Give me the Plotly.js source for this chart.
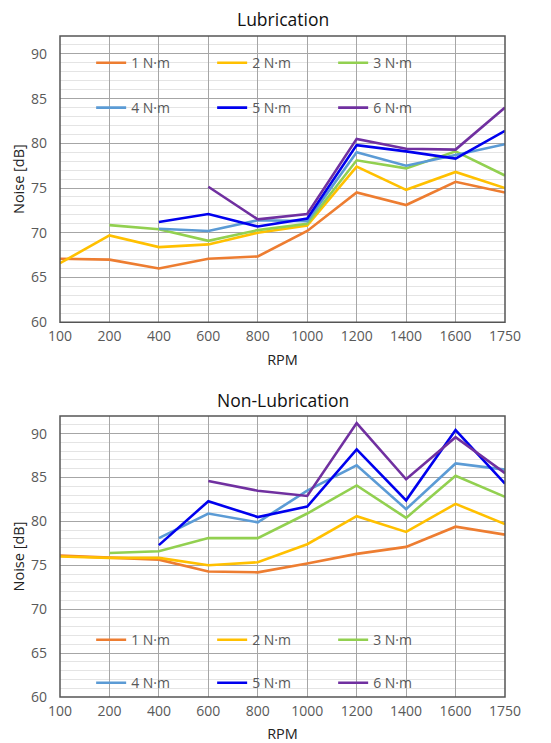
<!DOCTYPE html>
<html>
<head>
<meta charset="utf-8">
<script src="https://cdn.plot.ly/plotly-3.0.1.min.js"></script>
<style>html,body{margin:0;padding:0;background:#fff;}#chart{width:551px;height:743px;}</style>
</head>
<body>
<div id="chart"></div>
<script>
const rpm = ['100','200','400','600','800','1000','1200','1400','1600','1750'];
const seriesNames = ['1 N·m','2 N·m','3 N·m','4 N·m','5 N·m','6 N·m'];

// Lubrication
const lub1 = [67.1, 67.0, 66.0, 67.1, 67.35, 70.2, 74.5, 73.1, 75.7, 74.5];
const lub2 = [66.6, 69.7, 68.4, 68.7, 70.0, 70.8, 77.4, 74.8, 76.8, 75.0];
const lub3 = [null, 70.85, 70.4, 69.1, 70.3, 71.0, 78.1, 77.2, 79.1, 76.4];
const lub4 = [null, null, 70.45, 70.2, 71.4, 71.3, 79.0, 77.5, 78.7, 79.9];
const lub5 = [null, null, 71.2, 72.1, 70.7, 71.6, 79.8, 79.1, 78.3, 81.4];
const lub6 = [null, null, null, 75.15, 71.5, 72.1, 80.5, 79.4, 79.3, 84.0];

// Non-Lubrication
const non1 = [76.1, 75.85, 75.65, 74.3, 74.2, 75.2, 76.3, 77.1, 79.4, 78.5];
const non2 = [76.0, 75.85, 75.85, 75.0, 75.35, 77.4, 80.6, 78.8, 82.0, 79.7];
const non3 = [null, 76.4, 76.6, 78.1, 78.1, 80.9, 84.1, 80.4, 85.2, 82.8];
const non4 = [null, null, 78.1, 80.9, 79.9, 83.5, 86.4, 81.4, 86.6, 85.9];
const non5 = [null, null, 77.3, 82.3, 80.5, 81.7, 88.2, 82.4, 90.4, 84.3];
const non6 = [null, null, null, 84.6, 83.5, 82.9, 91.2, 84.8, 89.6, 85.5];

const colors = ['#ED7D31','#FFC000','#92D050','#5B9BD5','#0000EE','#7030A0'];
const lubData = [lub1, lub2, lub3, lub4, lub5, lub6];
const nonData = [non1, non2, non3, non4, non5, non6];

const traces = [];
lubData.forEach((d, i) => {
  traces.push({
    x: rpm, y: d, type: 'scatter', mode: 'lines', name: seriesNames[i],
    line: {color: colors[i], width: 2.6}, xaxis: 'x', yaxis: 'y',
    legend: i < 3 ? 'legend' : 'legend2', connectgaps: false
  });
});
nonData.forEach((d, i) => {
  traces.push({
    x: rpm, y: d, type: 'scatter', mode: 'lines', name: seriesNames[i],
    line: {color: colors[i], width: 2.6}, xaxis: 'x2', yaxis: 'y2',
    legend: i < 3 ? 'legend3' : 'legend4', connectgaps: false
  });
});

const font = {family: 'Open Sans, sans-serif', color: '#595959', size: 14};
const titleFont = {family: 'Open Sans, sans-serif', size: 14.5, color: '#222'};
function xax(anchor) {
  return {
    type: 'category', range: [0, 9], anchor: anchor,
    showgrid: true, gridcolor: '#a6a6a6', gridwidth: 1,
    showline: false, zeroline: false, ticks: '', ticklabelstandoff: 4,
    tickfont: font, fixedrange: true,
    title: {text: 'RPM', font: titleFont, standoff: 10}
  };
}
function yax(anchor, domain) {
  return {
    range: [60, 92], dtick: 5, tick0: 60, anchor: anchor, domain: domain,
    showgrid: true, gridcolor: '#a6a6a6', gridwidth: 1,
    minor: {dtick: 1, showgrid: true, gridcolor: '#e4e4e4', gridwidth: 1},
    zeroline: false, showline: false, ticks: '', ticklabelstandoff: 12,
    tickfont: font, fixedrange: true,
    title: {text: 'Noise [dB]', font: titleFont, standoff: 2}
  };
}
function leg(y) {
  return {
    orientation: 'h', x: 0.07, y: y, xanchor: 'left', yanchor: 'middle',
    bgcolor: 'rgba(0,0,0,0)', font: font, entrywidth: 76, traceorder: 'normal',
    itemclick: false, itemdoubleclick: false
  };
}

const layout = {
  width: 551, height: 743,
  margin: {l: 60, r: 46, t: 36, b: 46},
  paper_bgcolor: '#ffffff', plot_bgcolor: '#ffffff',
  showlegend: true,
  xaxis: Object.assign(xax('y'), {domain: [0, 1]}),
  yaxis: yax('x', [0.567, 1]),
  xaxis2: Object.assign(xax('y2'), {domain: [0, 1]}),
  yaxis2: yax('x2', [0, 0.425]),
  legend: leg(0.959),
  legend2: leg(0.891),
  legend3: leg(0.086),
  legend4: leg(0.021),
  shapes: [
    {type: 'rect', xref: 'x domain', yref: 'y domain', x0: 0, x1: 1, y0: 0, y1: 1, line: {color: '#555', width: 1.5}},
    {type: 'rect', xref: 'x2 domain', yref: 'y2 domain', x0: 0, x1: 1, y0: 0, y1: 1, line: {color: '#555', width: 1.5}}
  ],
  annotations: [
    {text: 'Lubrication', xref: 'paper', yref: 'paper', x: 0.5, y: 1, yshift: 17, xanchor: 'center', yanchor: 'middle', showarrow: false, font: {family: 'Open Sans, sans-serif', size: 17.5, color: '#111'}},
    {text: 'Non-Lubrication', xref: 'paper', yref: 'paper', x: 0.5, y: 0.425, yshift: 16, xanchor: 'center', yanchor: 'middle', showarrow: false, font: {family: 'Open Sans, sans-serif', size: 17.5, color: '#111'}}
  ]
};

Plotly.newPlot('chart', traces, layout, {displayModeBar: false, staticPlot: true});
</script>
</body>
</html>
